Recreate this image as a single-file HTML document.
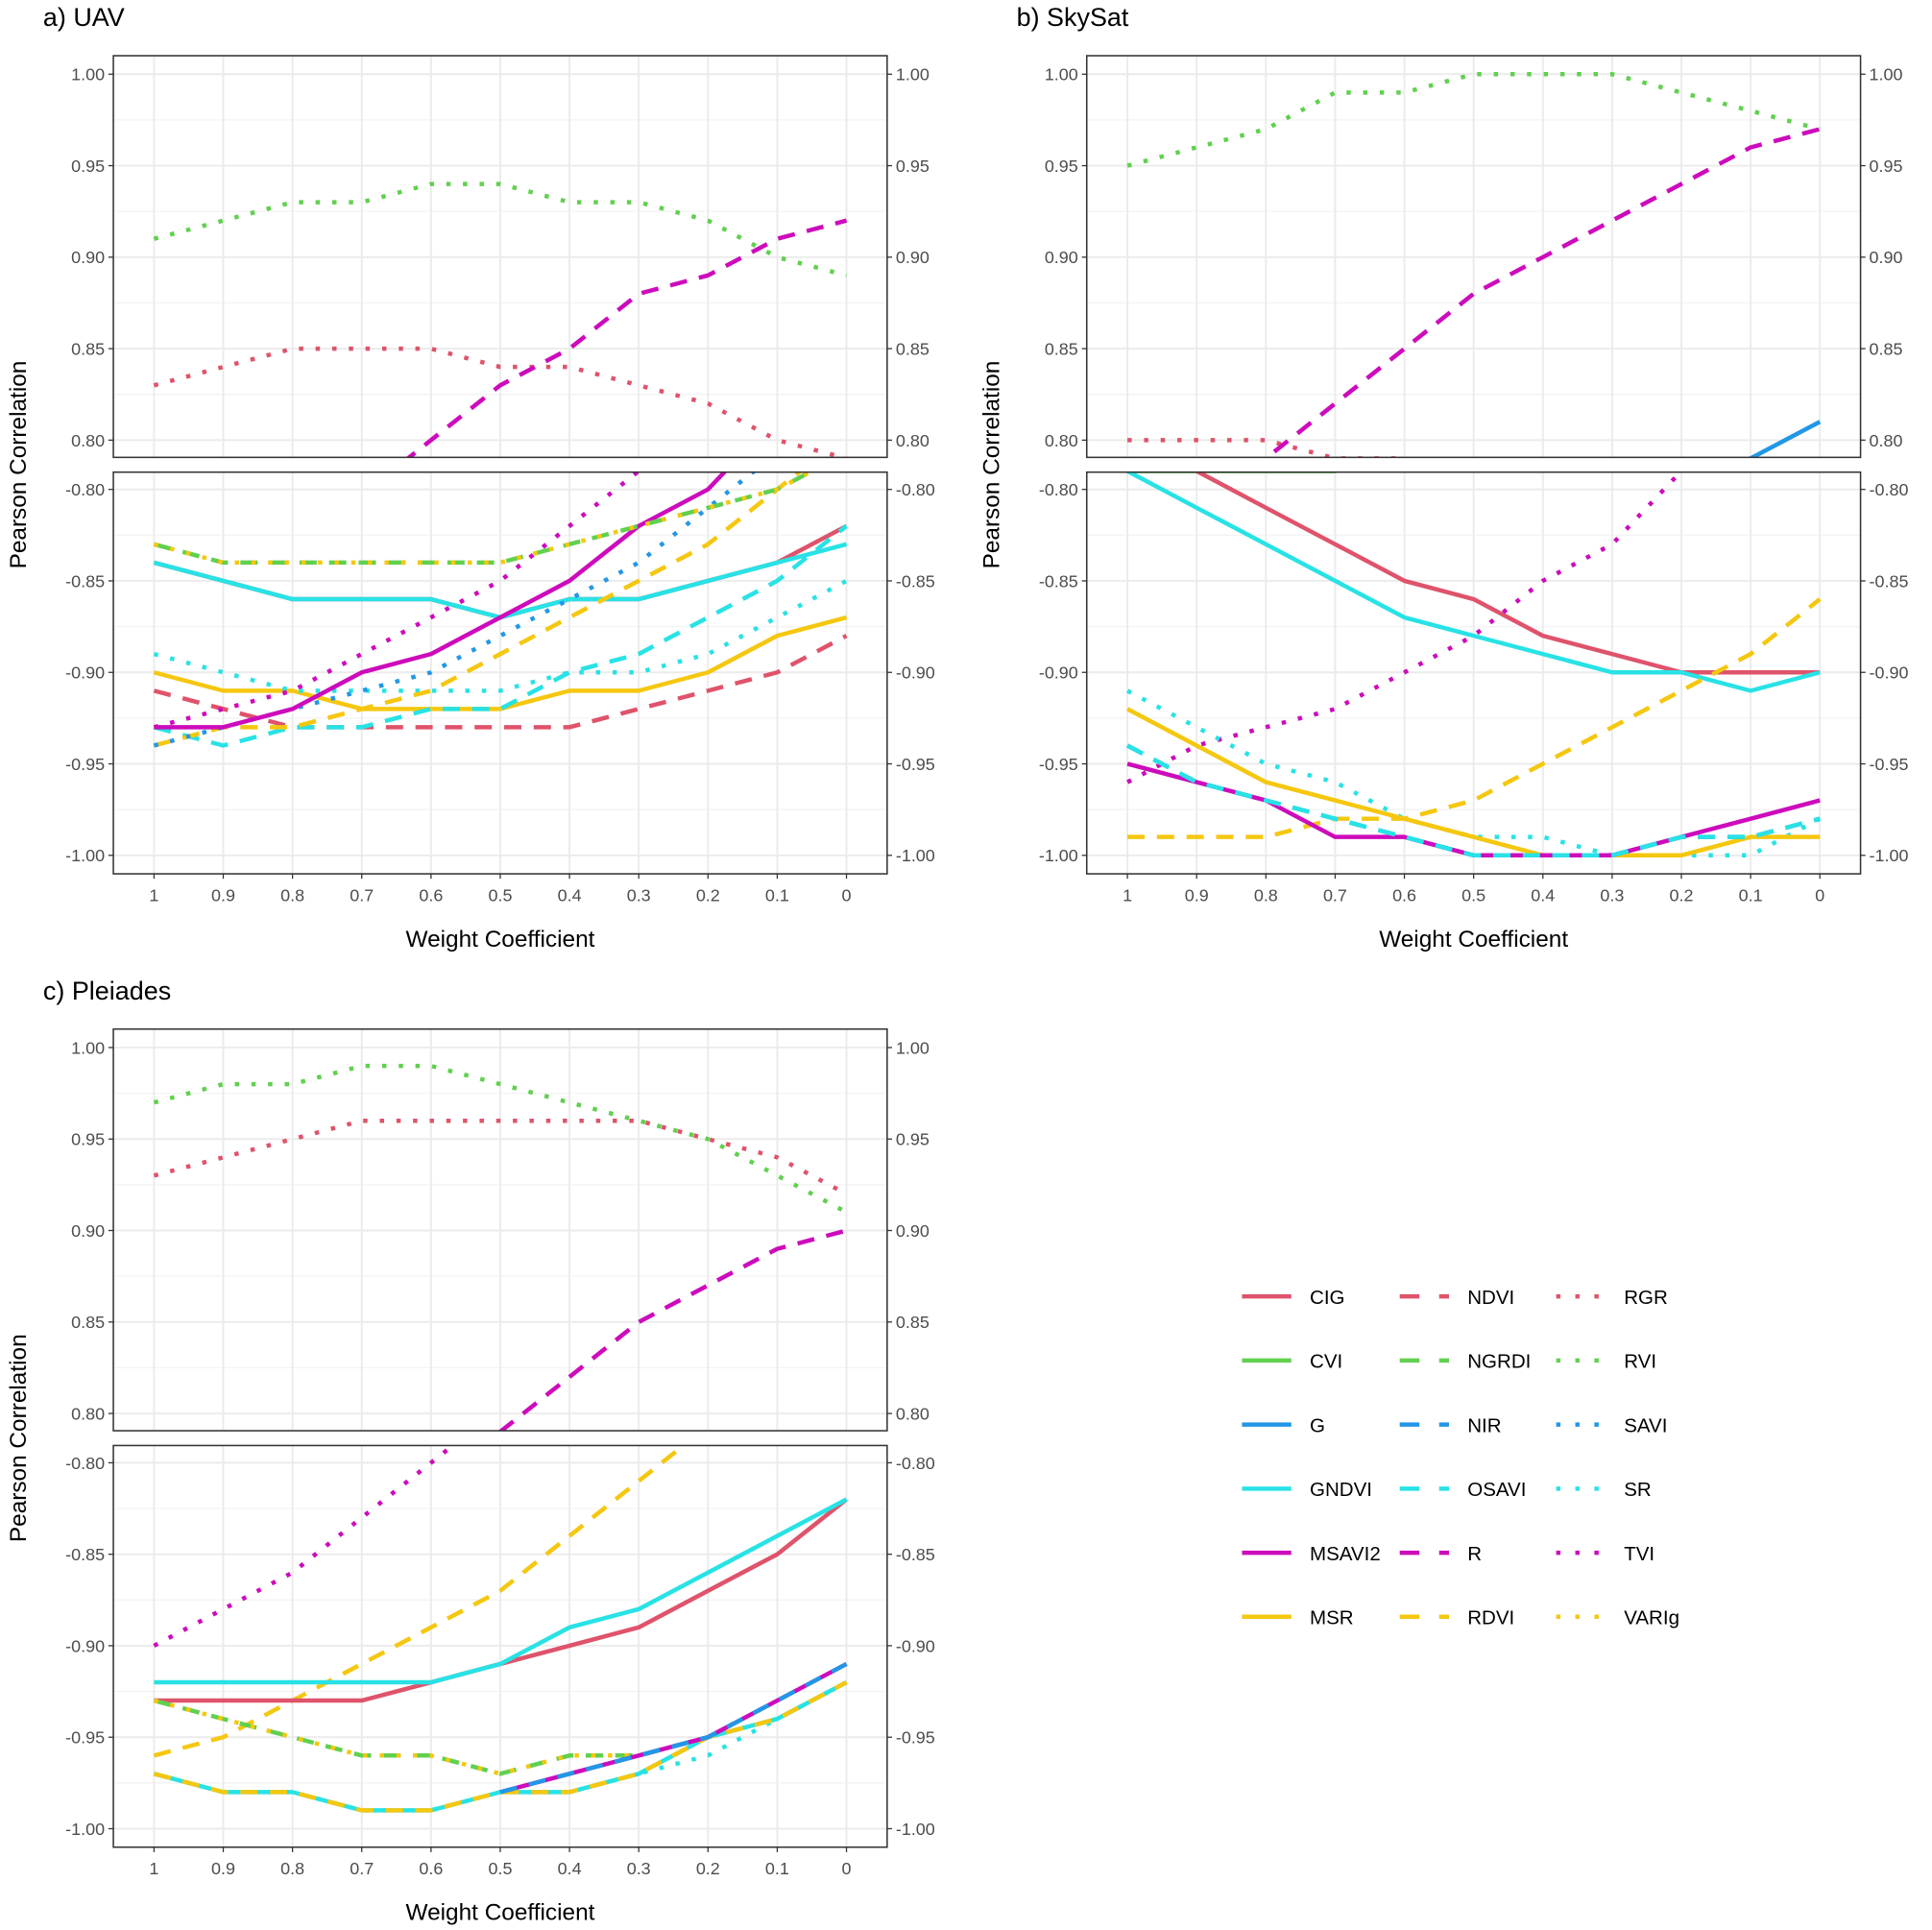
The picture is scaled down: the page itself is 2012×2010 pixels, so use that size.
<!DOCTYPE html>
<html><head><meta charset="utf-8"><style>
html,body{margin:0;padding:0;background:#fff;}
svg{display:block;}
text{font-family:"Liberation Sans",Arial,sans-serif;}
</style></head><body>
<svg id="s" width="2012" height="2010" viewBox="0 0 1568 1566" xmlns="http://www.w3.org/2000/svg"></svg>
<script>
const C={red:"#DF536B",green:"#61D04F",blue:"#2297E6",cyan:"#28E2E5",mag:"#CD0BBC",yel:"#F5C710"};
const DS={solid:"",dash:"14 10",dot:"3.5 10"};
let out="";
function T(x,y,s,opt){out+=`<text x="${x}" y="${y}" ${opt||""}>${s}</text>`;}
let cid=0;
function panel(ox,oy,title,topS,botS){
  T(ox+35,oy+21,title,'font-size="21" fill="#000"');
  const L=ox+92,R=ox+720;
  const X=i=>ox+125+i*56.2;
  const facets=[{t:oy+45,b:oy+371,v0:1.0,y0:oy+60,s:topS,labs:["1.00","0.95","0.90","0.85","0.80"],vals:[1,.95,.9,.85,.8]},
                {t:oy+383,b:oy+709,v0:-0.8,y0:oy+397,s:botS,labs:["-0.80","-0.85","-0.90","-0.95","-1.00"],vals:[-.8,-.85,-.9,-.95,-1]}];
  for(const f of facets){
    const Y=v=>f.y0+(f.v0-v)/0.05*74.25;
    out+=`<rect x="${L}" y="${f.t}" width="${R-L}" height="${f.b-f.t}" fill="#fff"/>`;
    for(let k=0;k<4;k++){const y=f.y0+k*74.25+37.1;out+=`<line x1="${L}" x2="${R}" y1="${y}" y2="${y}" stroke="#f3f3f3" stroke-width="1"/>`;}
    for(let i=0;i<11;i++){out+=`<line x1="${X(i)}" x2="${X(i)}" y1="${f.t}" y2="${f.b}" stroke="#ebebeb" stroke-width="1.5"/>`;}
    f.vals.forEach((v,k)=>{const y=Y(v);out+=`<line x1="${L}" x2="${R}" y1="${y}" y2="${y}" stroke="#ebebeb" stroke-width="1.5"/>`;
      out+=`<line x1="${L-4}" x2="${L}" y1="${y}" y2="${y}" stroke="#333"/><line x1="${R}" x2="${R+4}" y1="${y}" y2="${y}" stroke="#333"/>`;
      T(L-7,y+5,f.labs[k],'font-size="14" fill="#4d4d4d" text-anchor="end"');
      T(R+7,y+5,f.labs[k],'font-size="14" fill="#4d4d4d"');});
    cid++;
    out+=`<clipPath id="c${cid}"><rect x="${L}" y="${f.t}" width="${R-L}" height="${f.b-f.t}"/></clipPath><g clip-path="url(#c${cid})">`;
    for(const [col,st,d] of f.s){
      const pts=d.map((v,i)=>v===null?null:`${X(i).toFixed(1)},${Y(v).toFixed(1)}`).filter(p=>p);
      out+=`<polyline points="${pts.join(" ")}" fill="none" stroke="${C[col]}" stroke-width="3.5" stroke-dasharray="${DS[st]}" stroke-linejoin="round"/>`;
    }
    out+=`</g><rect x="${L}" y="${f.t}" width="${R-L}" height="${f.b-f.t}" fill="none" stroke="#333" stroke-width="1.2"/>`;
  }
  const labs=["1","0.9","0.8","0.7","0.6","0.5","0.4","0.3","0.2","0.1","0"];
  for(let i=0;i<11;i++){out+=`<line x1="${X(i)}" x2="${X(i)}" y1="${oy+709}" y2="${oy+713}" stroke="#333"/>`;T(X(i),oy+731,labs[i],'font-size="14" fill="#4d4d4d" text-anchor="middle"');}
  T(ox+406,oy+768,"Weight Coefficient",'font-size="19" fill="#000" text-anchor="middle"');
  out+=`<text transform="translate(${ox+21},${oy+377}) rotate(-90)" font-size="19" fill="#000" text-anchor="middle">Pearson Correlation</text>`;
}
const n=null;
panel(0,0,"a) UAV",[
 ["green","dot",[.91,.92,.93,.93,.94,.94,.93,.93,.92,.90,.89]],
 ["red","dot",[.83,.84,.85,.85,.85,.84,.84,.83,.82,.80,.79]],
 ["mag","dash",[.70,.72,.74,.77,.80,.83,.85,.88,.89,.91,.92]]
],[
 ["red","solid",[-.84,-.85,-.86,-.86,-.86,-.87,-.86,-.86,-.85,-.84,-.82]],
 ["cyan","solid",[-.84,-.85,-.86,-.86,-.86,-.87,-.86,-.86,-.85,-.84,-.83]],
 ["red","dash",[-.91,-.92,-.93,-.93,-.93,-.93,-.93,-.92,-.91,-.90,-.88]],
 ["yel","solid",[-.90,-.91,-.91,-.92,-.92,-.92,-.91,-.91,-.90,-.88,-.87]],
 ["cyan","dot",[-.89,-.90,-.91,-.91,-.91,-.91,-.90,-.90,-.89,-.87,-.85]],
 ["cyan","dash",[-.93,-.94,-.93,-.93,-.92,-.92,-.90,-.89,-.87,-.85,-.82]],
 ["yel","dash",[-.94,-.93,-.93,-.92,-.91,-.89,-.87,-.85,-.83,-.80,-.77]],
 ["blue","dot",[-.94,-.93,-.92,-.91,-.90,-.88,-.86,-.84,-.81,-.78,-.75]],
 ["mag","dot",[-.93,-.92,-.91,-.89,-.87,-.85,-.82,-.79,-.76,-.73,-.70]],
 ["mag","solid",[-.93,-.93,-.92,-.90,-.89,-.87,-.85,-.82,-.80,-.76,-.73]],
 ["green","dash",[-.83,-.84,-.84,-.84,-.84,-.84,-.83,-.82,-.81,-.80,-.78]],
 ["yel","dot",[-.83,-.84,-.84,-.84,-.84,-.84,-.83,-.82,-.81,-.80,-.78]]
]);
panel(790,0,"b) SkySat",[
 ["green","dot",[.95,.96,.97,.99,.99,1.00,1.00,1.00,.99,.98,.97]],
 ["red","dot",[.80,.80,.80,.79,.79,.78,.77,.76,.75,.74,.73]],
 ["mag","dash",[.74,.76,.79,.82,.85,.88,.90,.92,.94,.96,.97]],
 ["blue","solid",[.70,.71,.72,.73,.74,.75,.76,.77,.78,.79,.81]]
],[
 ["green","solid",[-.79,-.79,-.79,-.79,-.78,-.77,-.76,-.75,-.74,-.73,-.72]],
 ["red","solid",[-.78,-.79,-.81,-.83,-.85,-.86,-.88,-.89,-.90,-.90,-.90]],
 ["cyan","solid",[-.79,-.81,-.83,-.85,-.87,-.88,-.89,-.90,-.90,-.91,-.90]],
 ["mag","dot",[-.96,-.94,-.93,-.92,-.90,-.88,-.85,-.83,-.79,-.76,-.73]],
 ["yel","dash",[-.99,-.99,-.99,-.98,-.98,-.97,-.95,-.93,-.91,-.89,-.86]],
 ["cyan","dot",[-.91,-.93,-.95,-.96,-.98,-.99,-.99,-1.00,-1.00,-1.00,-.98]],
 ["yel","solid",[-.92,-.94,-.96,-.97,-.98,-.99,-1.00,-1.00,-1.00,-.99,-.99]],
 ["mag","solid",[-.95,-.96,-.97,-.99,-.99,-1.00,-1.00,-1.00,-.99,-.98,-.97]],
 ["blue","dash",[-.94,-.96,-.97,-.98,-.99,-1.00,-1.00,-1.00,-.99,-.99,-.98]],
 ["cyan","dash",[-.94,-.96,-.97,-.98,-.99,-1.00,-1.00,-1.00,-.99,-.99,-.98]]
]);
panel(0,790,"c) Pleiades",[
 ["green","dot",[.97,.98,.98,.99,.99,.98,.97,.96,.95,.93,.91]],
 ["red","dot",[.93,.94,.95,.96,.96,.96,.96,.96,.95,.94,.92]],
 ["mag","dash",[.70,.72,.74,.75,.77,.79,.82,.85,.87,.89,.90]]
],[
 ["mag","dot",[-.90,-.88,-.86,-.83,-.80,-.77,-.74,-.71,-.68,-.65,-.62]],
 ["yel","dash",[-.96,-.95,-.93,-.91,-.89,-.87,-.84,-.81,-.78,-.75,-.72]],
 ["red","solid",[-.93,-.93,-.93,-.93,-.92,-.91,-.90,-.89,-.87,-.85,-.82]],
 ["cyan","solid",[-.92,-.92,-.92,-.92,-.92,-.91,-.89,-.88,-.86,-.84,-.82]],
 ["green","dash",[-.93,-.94,-.95,-.96,-.96,-.97,-.96,-.96,-.95,-.94,-.92]],
 ["yel","dot",[-.93,-.94,-.95,-.96,-.96,-.97,-.96,-.96,-.95,-.94,-.92]],
 ["cyan","dot",[-.97,-.98,-.98,-.99,-.99,-.98,-.98,-.97,-.96,-.94,-.92]],
 ["cyan","solid",[-.97,-.98,-.98,-.99,-.99,-.98,-.98,-.97,-.95,-.94,-.92]],
 ["yel","dash",[-.97,-.98,-.98,-.99,-.99,-.98,-.98,-.97,-.95,-.94,-.92]],
 ["mag","solid",[n,n,n,n,n,-.98,-.97,-.96,-.95,-.93,-.91]],
 ["blue","dash",[n,n,n,n,n,-.98,-.97,-.96,-.95,-.93,-.91]]
]);
// legend
const leg=[[["red","solid","CIG"],["green","solid","CVI"],["blue","solid","G"],["cyan","solid","GNDVI"],["mag","solid","MSAVI2"],["yel","solid","MSR"]],
[["red","dash","NDVI"],["green","dash","NGRDI"],["blue","dash","NIR"],["cyan","dash","OSAVI"],["mag","dash","R"],["yel","dash","RDVI"]],
[["red","dot","RGR"],["green","dot","RVI"],["blue","dot","SAVI"],["cyan","dot","SR"],["mag","dot","TVI"],["yel","dot","VARIg"]]];
const cx=[1008,1136,1263];
leg.forEach((col,c)=>col.forEach(([k,st,l],r)=>{const y=1052+r*52;const x=cx[c];
 const da=st==="dash"?"16 16":st==="dot"?"3.5 12":"";
 out+=`<line x1="${x}" x2="${x+40}" y1="${y}" y2="${y}" stroke="${C[k]}" stroke-width="3.5" stroke-dasharray="${da}"/>`;
 T(x+55,y+6,l,'font-size="16" fill="#000"');}));
document.getElementById("s").innerHTML=out;
</script>
</body></html>
